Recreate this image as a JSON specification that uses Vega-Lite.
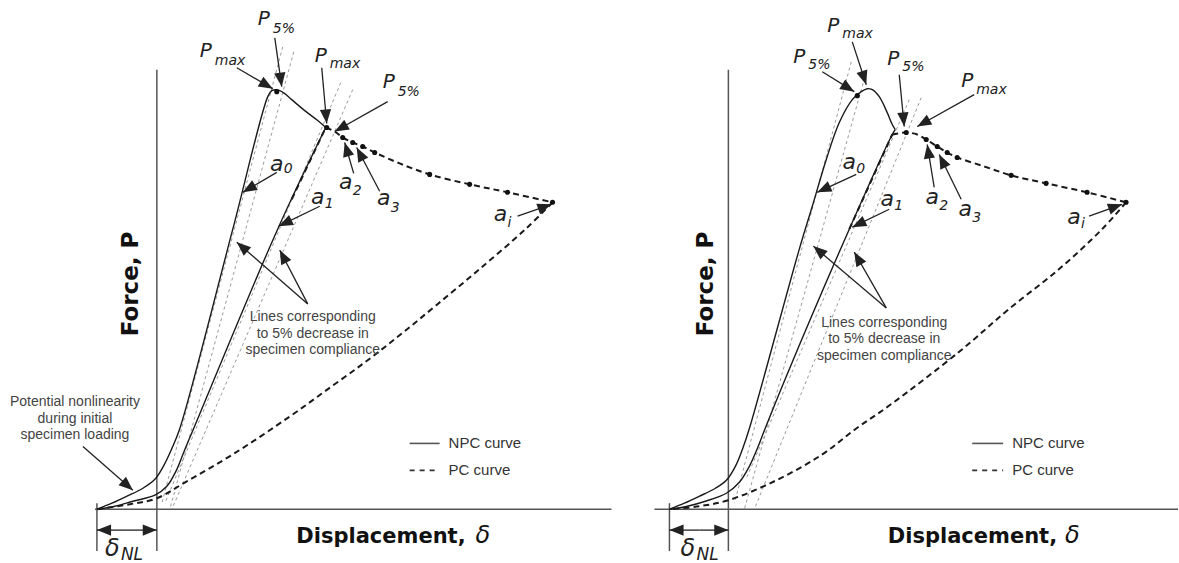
{
  "$schema": "https://vega.github.io/schema/vega-lite/v6.json",
  "width": 1179,
  "height": 563,
  "autosize": {"type": "fit", "contains": "padding"},
  "padding": 0,
  "background": "white",
  "config": {"view": {"stroke": null}},
  "datasets": {
    "curves": [
      {"id": "L0", "kind": "NPC", "x": 97, "y": 0}, {"id": "L0", "kind": "NPC", "x": 112, "y": 6}, {"id": "L0", "kind": "NPC", "x": 127, "y": 13}, {"id": "L0", "kind": "NPC", "x": 143, "y": 21}, {"id": "L0", "kind": "NPC", "x": 155, "y": 30}, {"id": "L0", "kind": "NPC", "x": 164, "y": 44}, {"id": "L0", "kind": "NPC", "x": 172, "y": 61}, {"id": "L0", "kind": "NPC", "x": 180, "y": 81}, {"id": "L0", "kind": "NPC", "x": 233, "y": 281}, {"id": "L0", "kind": "NPC", "x": 268, "y": 414}, {"id": "L0", "kind": "NPC", "x": 272, "y": 420}, {"id": "L0", "kind": "NPC", "x": 276, "y": 421}, {"id": "L0", "kind": "NPC", "x": 280, "y": 420}, {"id": "L0", "kind": "NPC", "x": 285, "y": 417}, {"id": "L0", "kind": "NPC", "x": 292, "y": 411}, {"id": "L0", "kind": "NPC", "x": 305, "y": 400}, {"id": "L0", "kind": "NPC", "x": 318, "y": 390}, {"id": "L0", "kind": "NPC", "x": 326, "y": 383},
      {"id": "L1", "kind": "NPC", "x": 97, "y": 0}, {"id": "L1", "kind": "NPC", "x": 115, "y": 3}, {"id": "L1", "kind": "NPC", "x": 133, "y": 8}, {"id": "L1", "kind": "NPC", "x": 155, "y": 14}, {"id": "L1", "kind": "NPC", "x": 167, "y": 23}, {"id": "L1", "kind": "NPC", "x": 177, "y": 40}, {"id": "L1", "kind": "NPC", "x": 185, "y": 60}, {"id": "L1", "kind": "NPC", "x": 193, "y": 79}, {"id": "L1", "kind": "NPC", "x": 277, "y": 279}, {"id": "L1", "kind": "NPC", "x": 326, "y": 383},
      {"id": "R0", "kind": "NPC", "x": 670, "y": 0}, {"id": "R0", "kind": "NPC", "x": 685, "y": 6}, {"id": "R0", "kind": "NPC", "x": 700, "y": 13}, {"id": "R0", "kind": "NPC", "x": 716, "y": 21}, {"id": "R0", "kind": "NPC", "x": 727, "y": 29}, {"id": "R0", "kind": "NPC", "x": 736, "y": 43}, {"id": "R0", "kind": "NPC", "x": 743, "y": 60}, {"id": "R0", "kind": "NPC", "x": 750, "y": 81}, {"id": "R0", "kind": "NPC", "x": 800, "y": 261}, {"id": "R0", "kind": "NPC", "x": 813, "y": 304}, {"id": "R0", "kind": "NPC", "x": 827, "y": 351}, {"id": "R0", "kind": "NPC", "x": 840, "y": 388}, {"id": "R0", "kind": "NPC", "x": 853, "y": 411}, {"id": "R0", "kind": "NPC", "x": 862, "y": 419}, {"id": "R0", "kind": "NPC", "x": 868, "y": 422}, {"id": "R0", "kind": "NPC", "x": 873, "y": 421}, {"id": "R0", "kind": "NPC", "x": 880, "y": 414}, {"id": "R0", "kind": "NPC", "x": 888, "y": 398}, {"id": "R0", "kind": "NPC", "x": 893, "y": 386}, {"id": "R0", "kind": "NPC", "x": 896, "y": 381},
      {"id": "R1", "kind": "NPC", "x": 670, "y": 0}, {"id": "R1", "kind": "NPC", "x": 688, "y": 3}, {"id": "R1", "kind": "NPC", "x": 706, "y": 8}, {"id": "R1", "kind": "NPC", "x": 727, "y": 16}, {"id": "R1", "kind": "NPC", "x": 740, "y": 27}, {"id": "R1", "kind": "NPC", "x": 750, "y": 43}, {"id": "R1", "kind": "NPC", "x": 758, "y": 61}, {"id": "R1", "kind": "NPC", "x": 765, "y": 79}, {"id": "R1", "kind": "NPC", "x": 786, "y": 131}, {"id": "R1", "kind": "NPC", "x": 850, "y": 281}, {"id": "R1", "kind": "NPC", "x": 893, "y": 376}, {"id": "R1", "kind": "NPC", "x": 896, "y": 381},
      {"id": "Lp1", "kind": "PC", "x": 292, "y": 311}, {"id": "Lp1", "kind": "PC", "x": 326, "y": 383},
      {"id": "Lp2", "kind": "PC", "x": 326, "y": 383}, {"id": "Lp2", "kind": "PC", "x": 335, "y": 379}, {"id": "Lp2", "kind": "PC", "x": 343, "y": 373}, {"id": "Lp2", "kind": "PC", "x": 353, "y": 368}, {"id": "Lp2", "kind": "PC", "x": 363, "y": 364}, {"id": "Lp2", "kind": "PC", "x": 375, "y": 358}, {"id": "Lp2", "kind": "PC", "x": 400, "y": 347}, {"id": "Lp2", "kind": "PC", "x": 430, "y": 336}, {"id": "Lp2", "kind": "PC", "x": 470, "y": 326}, {"id": "Lp2", "kind": "PC", "x": 508, "y": 318}, {"id": "Lp2", "kind": "PC", "x": 553, "y": 308},
      {"id": "Lp3", "kind": "PC", "x": 553, "y": 308}, {"id": "Lp3", "kind": "PC", "x": 527, "y": 282}, {"id": "Lp3", "kind": "PC", "x": 480, "y": 241}, {"id": "Lp3", "kind": "PC", "x": 437, "y": 205}, {"id": "Lp3", "kind": "PC", "x": 403, "y": 177}, {"id": "Lp3", "kind": "PC", "x": 370, "y": 151}, {"id": "Lp3", "kind": "PC", "x": 333, "y": 124}, {"id": "Lp3", "kind": "PC", "x": 290, "y": 93}, {"id": "Lp3", "kind": "PC", "x": 233, "y": 55}, {"id": "Lp3", "kind": "PC", "x": 187, "y": 28}, {"id": "Lp3", "kind": "PC", "x": 157, "y": 11}, {"id": "Lp3", "kind": "PC", "x": 130, "y": 5}, {"id": "Lp3", "kind": "PC", "x": 97, "y": 0},
      {"id": "Rp1", "kind": "PC", "x": 850, "y": 281}, {"id": "Rp1", "kind": "PC", "x": 893, "y": 376},
      {"id": "Rp2", "kind": "PC", "x": 893, "y": 376}, {"id": "Rp2", "kind": "PC", "x": 907, "y": 378}, {"id": "Rp2", "kind": "PC", "x": 918, "y": 376}, {"id": "Rp2", "kind": "PC", "x": 927, "y": 371}, {"id": "Rp2", "kind": "PC", "x": 938, "y": 364}, {"id": "Rp2", "kind": "PC", "x": 948, "y": 358}, {"id": "Rp2", "kind": "PC", "x": 958, "y": 353}, {"id": "Rp2", "kind": "PC", "x": 985, "y": 344}, {"id": "Rp2", "kind": "PC", "x": 1012, "y": 335}, {"id": "Rp2", "kind": "PC", "x": 1047, "y": 327}, {"id": "Rp2", "kind": "PC", "x": 1088, "y": 318}, {"id": "Rp2", "kind": "PC", "x": 1127, "y": 308},
      {"id": "Rp3", "kind": "PC", "x": 1127, "y": 308}, {"id": "Rp3", "kind": "PC", "x": 1103, "y": 281}, {"id": "Rp3", "kind": "PC", "x": 1060, "y": 241}, {"id": "Rp3", "kind": "PC", "x": 1010, "y": 201}, {"id": "Rp3", "kind": "PC", "x": 960, "y": 158}, {"id": "Rp3", "kind": "PC", "x": 890, "y": 104}, {"id": "Rp3", "kind": "PC", "x": 857, "y": 81}, {"id": "Rp3", "kind": "PC", "x": 823, "y": 55}, {"id": "Rp3", "kind": "PC", "x": 777, "y": 29}, {"id": "Rp3", "kind": "PC", "x": 729, "y": 9}, {"id": "Rp3", "kind": "PC", "x": 700, "y": 3}, {"id": "Rp3", "kind": "PC", "x": 670, "y": 0}
    ],
    "dots": [
      {"x": 277, "y": 419}, {"x": 327, "y": 383}, {"x": 343, "y": 373}, {"x": 353, "y": 368}, {"x": 363, "y": 364}, {"x": 375, "y": 358}, {"x": 430, "y": 336}, {"x": 470, "y": 326}, {"x": 508, "y": 318}, {"x": 553, "y": 308},
      {"x": 858, "y": 415}, {"x": 907, "y": 378}, {"x": 927, "y": 371}, {"x": 938, "y": 364}, {"x": 948, "y": 358}, {"x": 958, "y": 353}, {"x": 1012, "y": 335}, {"x": 1047, "y": 327}, {"x": 1088, "y": 318}, {"x": 1127, "y": 308}
    ],
    "segs": [
      {"kind": "axis", "x": 157, "y": 441, "x2": 157, "y2": -42},
      {"kind": "axis", "x": 95, "y": 0, "x2": 612, "y2": 0},
      {"kind": "axis", "x": 97, "y": 6, "x2": 97, "y2": -42},
      {"kind": "axis", "x": 729, "y": 441, "x2": 729, "y2": -42},
      {"kind": "axis", "x": 655, "y": 0, "x2": 1179, "y2": 0},
      {"kind": "axis", "x": 670, "y": 6, "x2": 670, "y2": -42},
      {"kind": "ref", "x": 283, "y": 464, "x2": 162, "y2": 6},
      {"kind": "ref", "x": 294, "y": 459, "x2": 170, "y2": 0},
      {"kind": "ref", "x": 341, "y": 428, "x2": 165, "y2": 6},
      {"kind": "ref", "x": 353, "y": 421, "x2": 172, "y2": 0},
      {"kind": "ref", "x": 852, "y": 449, "x2": 735, "y2": 6},
      {"kind": "ref", "x": 867, "y": 439, "x2": 745, "y2": 0},
      {"kind": "ref", "x": 910, "y": 411, "x2": 747, "y2": 31},
      {"kind": "ref", "x": 922, "y": 413, "x2": 755, "y2": 0},
      {"kind": "legsolid", "x": 410, "y": 66, "x2": 440, "y2": 66},
      {"kind": "legsolid", "x": 973, "y": 66, "x2": 1004, "y2": 66},
      {"kind": "legdash", "x": 410, "y": 39, "x2": 440, "y2": 39},
      {"kind": "legdash", "x": 973, "y": 39, "x2": 1004, "y2": 39},
      {"kind": "arrow", "x": 237, "y": 443, "x2": 273, "y2": 422},
      {"kind": "arrow", "x": 275, "y": 473, "x2": 282, "y2": 424},
      {"kind": "arrow", "x": 322, "y": 443, "x2": 327, "y2": 387},
      {"kind": "arrow", "x": 388, "y": 409, "x2": 335, "y2": 379},
      {"kind": "arrow", "x": 277, "y": 338, "x2": 243, "y2": 318},
      {"kind": "arrow", "x": 320, "y": 304, "x2": 279, "y2": 284},
      {"kind": "arrow", "x": 354, "y": 337, "x2": 345, "y2": 368},
      {"kind": "arrow", "x": 380, "y": 319, "x2": 357, "y2": 363},
      {"kind": "arrow", "x": 518, "y": 294, "x2": 552, "y2": 306},
      {"kind": "arrow", "x": 83, "y": 63, "x2": 133, "y2": 19},
      {"kind": "arrow", "x": 308, "y": 206, "x2": 237, "y2": 268},
      {"kind": "arrow", "x": 308, "y": 206, "x2": 280, "y2": 260},
      {"kind": "arrow", "x": 127, "y": -21, "x2": 97, "y2": -21},
      {"kind": "arrow", "x": 127, "y": -21, "x2": 157, "y2": -21},
      {"kind": "arrow", "x": 823, "y": 439, "x2": 855, "y2": 419},
      {"kind": "arrow", "x": 853, "y": 469, "x2": 867, "y2": 426},
      {"kind": "arrow", "x": 900, "y": 436, "x2": 905, "y2": 384},
      {"kind": "arrow", "x": 975, "y": 416, "x2": 918, "y2": 384},
      {"kind": "arrow", "x": 857, "y": 336, "x2": 818, "y2": 318},
      {"kind": "arrow", "x": 890, "y": 301, "x2": 853, "y2": 283},
      {"kind": "arrow", "x": 935, "y": 323, "x2": 928, "y2": 366},
      {"kind": "arrow", "x": 962, "y": 311, "x2": 940, "y2": 356},
      {"kind": "arrow", "x": 1090, "y": 294, "x2": 1123, "y2": 306},
      {"kind": "arrow", "x": 887, "y": 202, "x2": 814, "y2": 264},
      {"kind": "arrow", "x": 887, "y": 202, "x2": 855, "y2": 258},
      {"kind": "arrow", "x": 700, "y": -21, "x2": 670, "y2": -21},
      {"kind": "arrow", "x": 700, "y": -21, "x2": 729, "y2": -21}
    ],
    "labels": [
      {"kind": "P", "text": "P", "x": 206, "y": 454},
      {"kind": "P", "text": "P", "x": 264, "y": 486},
      {"kind": "P", "text": "P", "x": 321, "y": 449},
      {"kind": "P", "text": "P", "x": 389, "y": 423},
      {"kind": "P", "text": "P", "x": 834, "y": 479},
      {"kind": "P", "text": "P", "x": 800, "y": 448},
      {"kind": "P", "text": "P", "x": 894, "y": 446},
      {"kind": "P", "text": "P", "x": 968, "y": 424},
      {"kind": "sub", "text": "max", "x": 215, "y": 446},
      {"kind": "sub", "text": "5%", "x": 273, "y": 478},
      {"kind": "sub", "text": "max", "x": 330, "y": 443},
      {"kind": "sub", "text": "5%", "x": 398, "y": 415},
      {"kind": "sub", "text": "max", "x": 843, "y": 473},
      {"kind": "sub", "text": "5%", "x": 809, "y": 442},
      {"kind": "sub", "text": "5%", "x": 903, "y": 440},
      {"kind": "sub", "text": "max", "x": 977, "y": 417},
      {"kind": "a", "text": "a", "x": 277, "y": 339},
      {"kind": "a", "text": "a", "x": 318, "y": 306},
      {"kind": "a", "text": "a", "x": 346, "y": 321},
      {"kind": "a", "text": "a", "x": 384, "y": 305},
      {"kind": "a", "text": "a", "x": 501, "y": 289},
      {"kind": "a", "text": "a", "x": 850, "y": 341},
      {"kind": "a", "text": "a", "x": 888, "y": 304},
      {"kind": "a", "text": "a", "x": 933, "y": 306},
      {"kind": "a", "text": "a", "x": 966, "y": 294},
      {"kind": "a", "text": "a", "x": 1075, "y": 286},
      {"kind": "sub", "text": "0", "x": 284, "y": 337},
      {"kind": "sub", "text": "1", "x": 325, "y": 302},
      {"kind": "sub", "text": "2", "x": 353, "y": 315},
      {"kind": "sub", "text": "3", "x": 391, "y": 298},
      {"kind": "sub", "text": "i", "x": 508, "y": 283},
      {"kind": "sub", "text": "0", "x": 857, "y": 337},
      {"kind": "sub", "text": "1", "x": 895, "y": 300},
      {"kind": "sub", "text": "2", "x": 940, "y": 300},
      {"kind": "sub", "text": "3", "x": 973, "y": 288},
      {"kind": "sub", "text": "i", "x": 1082, "y": 282},
      {"kind": "dsym", "text": "δ", "x": 105, "y": -47},
      {"kind": "dsym", "text": "δ", "x": 681, "y": -47},
      {"kind": "dsub", "text": "NL", "x": 121, "y": -51},
      {"kind": "dsub", "text": "NL", "x": 697, "y": -51},
      {"kind": "note", "text": "Potential nonlinearity", "x": 75, "y": 108},
      {"kind": "note", "text": "during initial", "x": 75, "y": 91},
      {"kind": "note", "text": "specimen loading", "x": 75, "y": 74},
      {"kind": "note", "text": "Lines corresponding", "x": 313, "y": 193},
      {"kind": "note", "text": "to 5% decrease in", "x": 313, "y": 176},
      {"kind": "note", "text": "specimen compliance", "x": 313, "y": 160},
      {"kind": "note", "text": "Lines corresponding", "x": 885, "y": 187},
      {"kind": "note", "text": "to 5% decrease in", "x": 885, "y": 171},
      {"kind": "note", "text": "specimen compliance", "x": 885, "y": 154},
      {"kind": "legend", "text": "NPC curve", "x": 449, "y": 66},
      {"kind": "legend", "text": "PC curve", "x": 449, "y": 39},
      {"kind": "legend", "text": "NPC curve", "x": 1013, "y": 66},
      {"kind": "legend", "text": "PC curve", "x": 1013, "y": 39},
      {"kind": "xtitle", "text": "Displacement,", "x": 466, "y": -34},
      {"kind": "xtitle", "text": "Displacement,", "x": 1058, "y": -34},
      {"kind": "xsym", "text": "δ", "x": 476, "y": -34},
      {"kind": "xsym", "text": "δ", "x": 1066, "y": -34},
      {"kind": "ytitle", "text": "Force, P", "x": 131, "y": 226},
      {"kind": "ytitle", "text": "Force, P", "x": 707, "y": 226}
    ]
  },
  "encoding": {
    "x": {"field": "x", "type": "quantitative", "scale": {"domain": [0, 1179], "nice": false, "zero": false}, "axis": null},
    "y": {"field": "y", "type": "quantitative", "scale": {"domain": [-52, 511], "nice": false, "zero": false}, "axis": null}
  },
  "layer": [
    {
      "data": {"name": "segs"},
      "transform": [{"filter": "datum.kind == 'ref'"}],
      "mark": {"type": "rule", "color": "#9a9a9a", "strokeWidth": 1, "strokeDash": [3, 3]},
      "encoding": {"x2": {"field": "x2"}, "y2": {"field": "y2"}}
    },
    {
      "data": {"name": "segs"},
      "transform": [{"filter": "datum.kind == 'axis'"}],
      "mark": {"type": "rule", "color": "#555555", "strokeWidth": 1.5},
      "encoding": {"x2": {"field": "x2"}, "y2": {"field": "y2"}}
    },
    {
      "data": {"name": "segs"},
      "transform": [{"filter": "datum.kind == 'legsolid'"}],
      "mark": {"type": "rule", "color": "#555555", "strokeWidth": 1.6},
      "encoding": {"x2": {"field": "x2"}, "y2": {"field": "y2"}}
    },
    {
      "data": {"name": "segs"},
      "transform": [{"filter": "datum.kind == 'legdash'"}],
      "mark": {"type": "rule", "color": "#333333", "strokeWidth": 1.8, "strokeDash": [5, 5]},
      "encoding": {"x2": {"field": "x2"}, "y2": {"field": "y2"}}
    },
    {
      "data": {"name": "curves"},
      "transform": [{"window": [{"op": "row_number", "as": "ord"}]}, {"filter": "datum.kind == 'NPC'"}],
      "mark": {"type": "line", "interpolate": "catmull-rom", "color": "#1a1a1a", "strokeWidth": 1.4},
      "encoding": {"detail": {"field": "id"}, "order": {"field": "ord", "type": "quantitative"}}
    },
    {
      "data": {"name": "curves"},
      "transform": [{"window": [{"op": "row_number", "as": "ord"}]}, {"filter": "datum.kind == 'PC'"}],
      "mark": {"type": "line", "interpolate": "catmull-rom", "color": "#1a1a1a", "strokeWidth": 2, "strokeDash": [6, 4]},
      "encoding": {"detail": {"field": "id"}, "order": {"field": "ord", "type": "quantitative"}}
    },
    {
      "data": {"name": "dots"},
      "mark": {"type": "point", "filled": true, "color": "#111111", "size": 26, "opacity": 1}
    },
    {
      "data": {"name": "segs"},
      "transform": [{"filter": "datum.kind == 'arrow'"}],
      "mark": {"type": "rule", "color": "#222222", "strokeWidth": 1.3},
      "encoding": {"x2": {"field": "x2"}, "y2": {"field": "y2"}}
    },
    {
      "data": {"name": "segs"},
      "transform": [
        {"filter": "datum.kind == 'arrow'"},
        {"calculate": "atan2(datum.x2 - datum.x, datum.y2 - datum.y) * 180 / PI", "as": "ang"}
      ],
      "mark": {"type": "point", "shape": "M0,0L-0.4,1L0.4,1Z", "filled": true, "color": "#222222", "size": 800, "opacity": 1, "strokeWidth": 0},
      "encoding": {
        "x": {"field": "x2", "type": "quantitative", "scale": {"domain": [0, 1179], "nice": false, "zero": false}, "axis": null},
        "y": {"field": "y2", "type": "quantitative", "scale": {"domain": [-52, 511], "nice": false, "zero": false}, "axis": null},
        "angle": {"field": "ang", "type": "quantitative", "scale": null}
      }
    },
    {
      "data": {"name": "labels"},
      "transform": [{"filter": "datum.kind == 'P'"}],
      "mark": {"type": "text", "font": "DejaVu Sans", "fontStyle": "italic", "fontSize": 20, "align": "center", "baseline": "alphabetic", "color": "#222222"},
      "encoding": {"text": {"field": "text"}}
    },
    {
      "data": {"name": "labels"},
      "transform": [{"filter": "datum.kind == 'a'"}],
      "mark": {"type": "text", "font": "DejaVu Sans", "fontStyle": "italic", "fontSize": 22, "align": "center", "baseline": "alphabetic", "color": "#222222"},
      "encoding": {"text": {"field": "text"}}
    },
    {
      "data": {"name": "labels"},
      "transform": [{"filter": "datum.kind == 'sub'"}],
      "mark": {"type": "text", "font": "DejaVu Sans", "fontStyle": "italic", "fontSize": 14, "align": "left", "baseline": "alphabetic", "color": "#222222"},
      "encoding": {"text": {"field": "text"}}
    },
    {
      "data": {"name": "labels"},
      "transform": [{"filter": "datum.kind == 'dsym'"}],
      "mark": {"type": "text", "font": "DejaVu Sans", "fontStyle": "italic", "fontSize": 24, "align": "left", "baseline": "alphabetic", "color": "#222222"},
      "encoding": {"text": {"field": "text"}}
    },
    {
      "data": {"name": "labels"},
      "transform": [{"filter": "datum.kind == 'dsub'"}],
      "mark": {"type": "text", "font": "DejaVu Sans", "fontStyle": "italic", "fontSize": 17, "align": "left", "baseline": "alphabetic", "color": "#222222"},
      "encoding": {"text": {"field": "text"}}
    },
    {
      "data": {"name": "labels"},
      "transform": [{"filter": "datum.kind == 'note'"}],
      "mark": {"type": "text", "font": "Liberation Sans", "fontSize": 14, "align": "center", "baseline": "middle", "color": "#444444"},
      "encoding": {"text": {"field": "text"}}
    },
    {
      "data": {"name": "labels"},
      "transform": [{"filter": "datum.kind == 'legend'"}],
      "mark": {"type": "text", "font": "Liberation Sans", "fontSize": 15, "align": "left", "baseline": "middle", "color": "#333333"},
      "encoding": {"text": {"field": "text"}}
    },
    {
      "data": {"name": "labels"},
      "transform": [{"filter": "datum.kind == 'xtitle'"}],
      "mark": {"type": "text", "font": "DejaVu Sans", "fontWeight": "bold", "fontSize": 21, "align": "right", "baseline": "alphabetic", "color": "#111111"},
      "encoding": {"text": {"field": "text"}}
    },
    {
      "data": {"name": "labels"},
      "transform": [{"filter": "datum.kind == 'xsym'"}],
      "mark": {"type": "text", "font": "DejaVu Sans", "fontStyle": "italic", "fontSize": 24, "align": "left", "baseline": "alphabetic", "color": "#111111"},
      "encoding": {"text": {"field": "text"}}
    },
    {
      "data": {"name": "labels"},
      "transform": [{"filter": "datum.kind == 'ytitle'"}],
      "mark": {"type": "text", "font": "DejaVu Sans", "fontWeight": "bold", "fontSize": 23, "angle": 270, "align": "center", "baseline": "middle", "color": "#111111"},
      "encoding": {"text": {"field": "text"}}
    }
  ]
}
